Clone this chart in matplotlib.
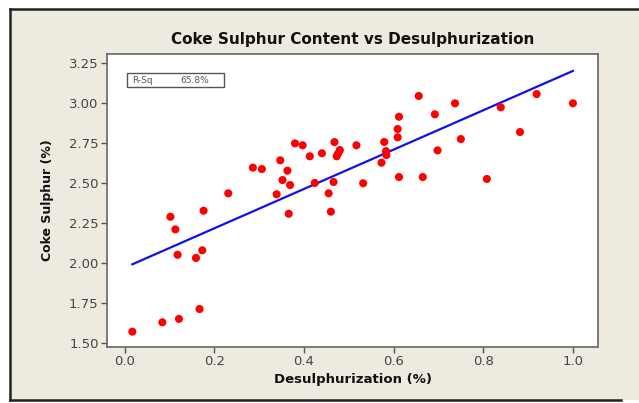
import matplotlib
matplotlib.use("Agg")
import matplotlib.pyplot as plt
from matplotlib.patches import Rectangle
from matplotlib.lines import Line2D
import numpy as np

# desulphurization (fraction) vs coke sulphur (%)
desulph = [0.017, 0.084, 0.121, 0.167, 0.102, 0.113, 0.118, 0.159, 0.173, 0.176,
           0.231, 0.286, 0.306, 0.339, 0.347, 0.352, 0.363, 0.369, 0.366, 0.380,
           0.397, 0.413, 0.424, 0.440, 0.455, 0.460, 0.466, 0.468, 0.480, 0.476,
           0.473, 0.517, 0.532, 0.573, 0.579, 0.583, 0.584, 0.609, 0.609, 0.612,
           0.612, 0.656, 0.665, 0.692, 0.698, 0.737, 0.750, 0.808, 0.839, 0.882,
           0.919, 1.000]
sulphur = [1.569, 1.628, 1.649, 1.711, 2.289, 2.210, 2.051, 2.031, 2.079, 2.327,
           2.436, 2.597, 2.588, 2.430, 2.643, 2.519, 2.578, 2.488, 2.308, 2.749,
           2.737, 2.668, 2.501, 2.687, 2.436, 2.321, 2.507, 2.757, 2.707, 2.685,
           2.668, 2.737, 2.499, 2.628, 2.758, 2.700, 2.676, 2.787, 2.839, 2.916,
           2.538, 3.046, 2.538, 2.931, 2.705, 3.000, 2.776, 2.526, 2.975, 2.820,
           3.058, 3.000]
x_ticks = [0.0, 0.2, 0.4, 0.6, 0.8, 1.0]
y_ticks = [1.50, 1.75, 2.00, 2.25, 2.50, 2.75, 3.00, 3.25]
r_sq_label = "65.8%"

bg = "#eeeae0"
fig = plt.figure(figsize=(6.39, 4.03), dpi=100)
fig.patch.set_facecolor("white")

# beige panel with dark frame (left, top, bottom)
fig.patches.append(Rectangle((10 / 639, 3 / 403), 1.0, 391 / 403, transform=fig.transFigure,
                             facecolor=bg, edgecolor="none", zorder=-2))
for xs, ys in [([10 / 639, 10 / 639], [3 / 403, 394 / 403]),
               ([10 / 639, 1.0], [394 / 403, 394 / 403]),
               ([10 / 639, 621 / 639], [3 / 403, 3 / 403])]:
    fig.lines.append(Line2D(xs, ys, transform=fig.transFigure, color="#222222", lw=1.8, zorder=-1))

ax = fig.add_axes([107 / 639, 1 - 347 / 403, 491 / 639, 293 / 403])
ax.set_zorder(1)
ax.set_facecolor("white")

ax.scatter(desulph, sulphur, s=34, color="#ff0000", edgecolors="none", zorder=3)

coef = np.polyfit(desulph, sulphur, 1)
xl = np.array([min(desulph), max(desulph)])
ax.plot(xl, np.polyval(coef, xl), color="#1010ee", lw=1.6, zorder=2)

ax.set_xlim(-0.0395, 1.056)
ax.set_ylim(1.473, 3.309)
ax.set_xticks(x_ticks)
ax.set_xticklabels([f"{v:.1f}" for v in x_ticks])
ax.set_yticks(y_ticks)
ax.set_yticklabels([f"{v:.2f}" for v in y_ticks])
ax.tick_params(direction="out", length=4, width=1, color="#555555",
               labelcolor="#444444", labelsize=9.5, pad=2)
for sp in ax.spines.values():
    sp.set_color("#666666")
    sp.set_linewidth(1.2)

ax.set_title("Coke Sulphur Content vs Desulphurization", fontsize=11, fontweight="bold",
             color="#111111", pad=7)
ax.set_xlabel("Desulphurization (%)", fontsize=9.5, fontweight="bold", color="#111111", labelpad=3)
ax.set_ylabel("Coke Sulphur (%)", fontsize=9, fontweight="bold", color="#111111", labelpad=11)

# R-Sq box
ax.add_patch(Rectangle((0.0407, 0.887), 0.197, 0.048, transform=ax.transAxes,
                       facecolor="white", edgecolor="#555555", lw=1, zorder=4))
ax.text(0.051, 0.911, "R-Sq", transform=ax.transAxes, fontsize=6.5, color="#555555",
        va="center", ha="left", zorder=5)
ax.text(0.150, 0.911, r_sq_label, transform=ax.transAxes, fontsize=6.5, color="#555555",
        va="center", ha="left", zorder=5)

fig.savefig("out.png", dpi=100)
